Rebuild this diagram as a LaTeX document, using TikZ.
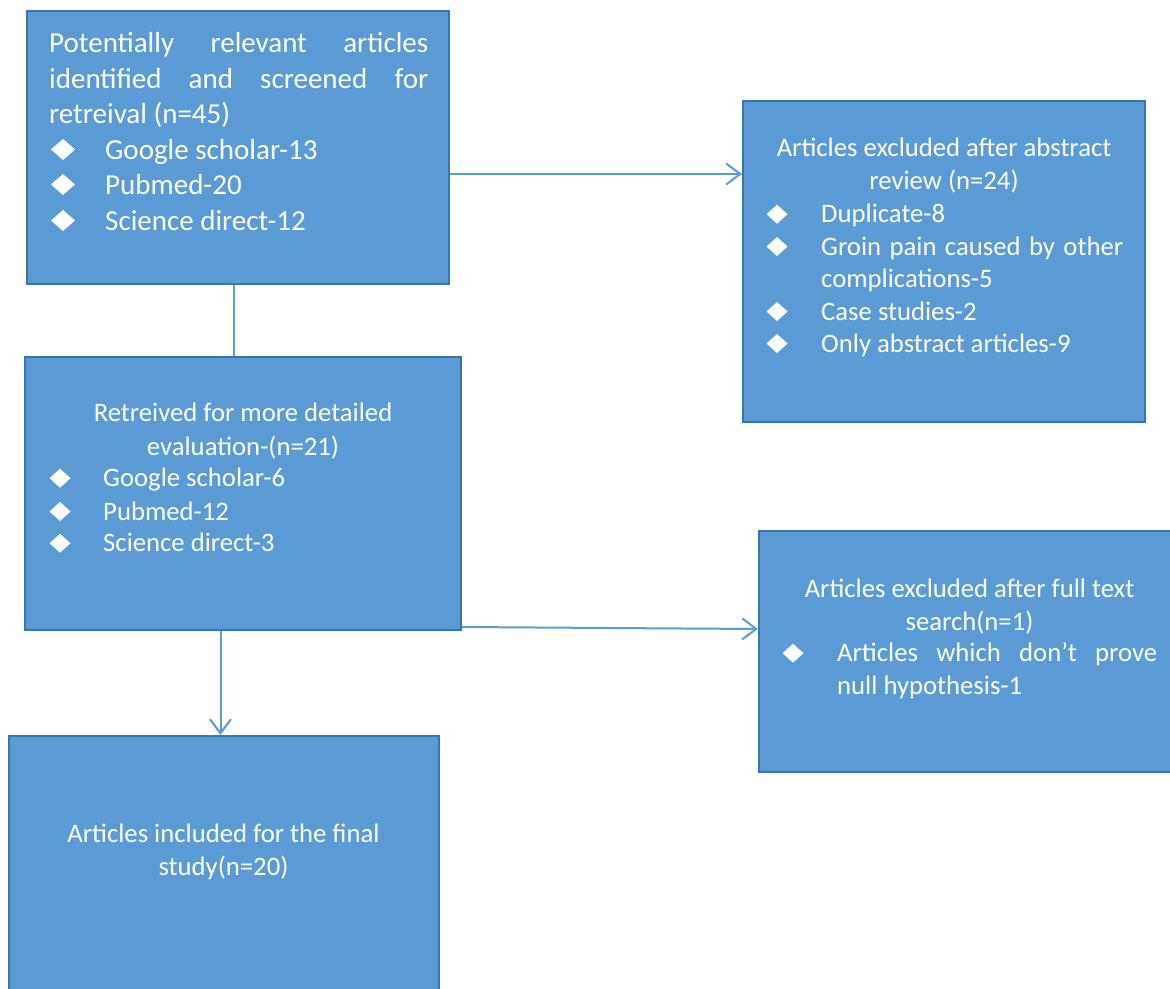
\documentclass[tikz,border=0pt]{standalone}
\usepackage{fontspec}
\setmainfont{Carlito}
\usetikzlibrary{arrows.meta}
\definecolor{boxfill}{RGB}{91,155,213}
\definecolor{boxborder}{RGB}{58,117,176}
\definecolor{linecol}{RGB}{91,155,213}
\newcommand\dmd[4]{\fill[white] (#1-#3,#2) -- (#1,#2-#4) -- (#1+#3,#2) -- (#1,#2+#4) -- cycle;}
\tikzset{
  box/.style={draw=boxborder, fill=boxfill, line width=2.2pt, rectangle, inner sep=0pt},
  txt/.style={text=white, inner sep=0pt, font=\fontsize{26.7}{32}\selectfont},
  big/.style={font=\fontsize{29}{35}\selectfont},
  lft/.style={anchor=base west},
  ctr/.style={anchor=base},
  conn/.style={draw=linecol, line width=2pt},
  arr/.style={conn, -{Straight Barb[length=14pt,width=21pt]}}
}
\begin{document}
\begin{tikzpicture}[x=1pt,y=-1pt]
\useasboundingbox (0,0) rectangle (1170,988);
\clip (0,0) rectangle (1170,988);
% boxes
\node[box, minimum width=422pt, minimum height=273pt] (b1) at (238,147.5) {};
\node[box, minimum width=402pt, minimum height=321pt] (b2) at (944,261.5) {};
\node[box, minimum width=436pt, minimum height=273pt] (b3) at (243,493.5) {};
\node[box, minimum width=421pt, minimum height=241pt] (b4) at (969.5,651.5) {};
\node[box, minimum width=430pt, minimum height=262pt] (b5) at (224,867) {};
% connectors
\coordinate (ya) at (0,174);
\coordinate (xa) at (234,0);
\coordinate (yb) at (0,627);
\coordinate (yc) at (0,629);
\coordinate (xb) at (220.5,0);
\draw[arr] (b1.east |- ya) -- (b2.west |- ya);
\draw[conn] (b1.south -| xa) -- (b3.north -| xa);
\draw[arr] (b3.east |- yb) -- (b4.west |- yc);
\draw[arr] (b3.south -| xb) -- (b5.north -| xb);
% box 1 text
\node[txt,big,lft] (t11) at (49,52) {\makebox[379pt][s]{Potentially relevant articles}};
\node[txt,big,lft] (t12) at (49,88) {\makebox[379pt][s]{identified and screened for}};
\node[txt,big,lft] (t13) at (49,123) {retreival (n=45)};
\dmd{63}{149.5}{12}{10.5}
\node[txt,big,lft] (t14) at (105,159) {Google scholar-13};
\dmd{63}{184.5}{12}{10.5}
\node[txt,big,lft] (t15) at (105,194) {Pubmed-20};
\dmd{63}{220.5}{12}{10.5}
\node[txt,big,lft] (t16) at (105,230) {Science direct-12};
% box 2 text
\node[txt,ctr] (t21) at (944,156.7) {Articles excluded after abstract};
\node[txt,ctr] (t22) at (944,189) {review (n=24)};
\dmd{777}{214.2}{10.5}{9.5}
\node[txt,lft] (t23) at (821,222.7) {Duplicate-8};
\dmd{777}{246.5}{10.5}{9.5}
\node[txt,lft] (t24) at (821,255) {\makebox[302pt][s]{Groin pain caused by other}};
\node[txt,lft] (t25) at (821,287.7) {complications-5};
\dmd{777}{311.5}{10.5}{9.5}
\node[txt,lft] (t26) at (821,320) {Case studies-2};
\dmd{777}{343.5}{10.5}{9.5}
\node[txt,lft] (t27) at (821,352) {Only abstract articles-9};
% box 3 text
\node[txt,ctr] (t31) at (243,421.7) {Retreived for more detailed};
\node[txt,ctr] (t32) at (243,455) {evaluation-(n=21)};
\dmd{60}{478.2}{10.5}{9.5}
\node[txt,lft] (t33) at (103,486.7) {Google scholar-6};
\dmd{60}{511.5}{10.5}{9.5}
\node[txt,lft] (t34) at (103,520) {Pubmed-12};
\dmd{60}{543.2}{10.5}{9.5}
\node[txt,lft] (t35) at (103,551.7) {Science direct-3};
% box 4 text
\node[txt,ctr] (t41) at (969.5,597) {Articles excluded after full text};
\node[txt,ctr] (t42) at (969.5,630) {search(n=1)};
\dmd{793}{653.2}{10.5}{9.5}
\node[txt,lft] (t43) at (837,661.7) {\makebox[320pt][s]{Articles which don’t prove}};
\node[txt,lft] (t44) at (837,694) {null hypothesis-1};
% box 5 text
\node[txt,ctr] (t51) at (223.5,842.7) {Articles included for the final};
\node[txt,ctr] (t52) at (223.5,875.7) {study(n=20)};
\end{tikzpicture}
\end{document}
